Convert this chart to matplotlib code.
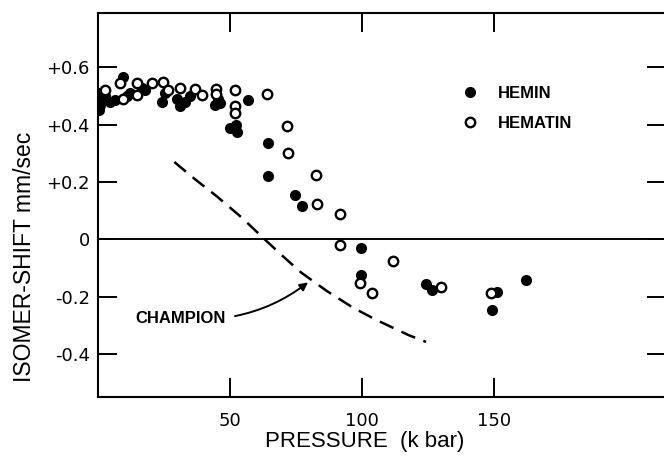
import matplotlib
matplotlib.use("Agg")
import matplotlib.pyplot as plt
import numpy as np

plt.rcParams['font.family'] = ['Liberation Sans', 'DejaVu Sans']

# hemin (filled circles): pressure in kbar, isomer shift in mm/sec
hemin_p = [0.5, 0.5, 0.6, 0.5, 2.5, 4.5, 6.4, 9.5, 11, 12.3, 16.6, 17.8, 24.2, 25.4,
           29.9, 30.9, 32.8, 34.8, 44.3, 45.4, 46.2, 49.9, 52.3, 52.7, 56.8, 64.4, 64.4,
           74.5, 77.3, 99.5, 99.5, 124.2, 126.4, 149.1, 151, 162.1]
hemin_s = [0.51, 0.49, 0.47, 0.45, 0.50, 0.48, 0.485, 0.565, 0.50, 0.51, 0.53, 0.52,
           0.48, 0.51, 0.49, 0.465, 0.48, 0.50, 0.47, 0.49, 0.475, 0.39, 0.40, 0.375,
           0.485, 0.335, 0.22, 0.155, 0.115, -0.03, -0.125, -0.155, -0.175, -0.245,
           -0.185, -0.14]

# hematin (open circles)
hematin_p = [2.6, 8.3, 9.5, 14.7, 14.7, 20.4, 24.6, 26.5, 31.1, 36.7, 39.4, 44.6, 44.6,
             51.9, 51.9, 51.9, 64, 71.5, 71.9, 82.5, 82.9, 91.6, 91.6, 99.2, 103.7,
             111.7, 129.8, 148.8]
hematin_s = [0.52, 0.546, 0.49, 0.546, 0.505, 0.546, 0.55, 0.52, 0.53, 0.525, 0.505,
             0.525, 0.508, 0.52, 0.466, 0.44, 0.508, 0.397, 0.30, 0.226, 0.125, 0.09,
             -0.021, -0.153, -0.188, -0.076, -0.167, -0.188]

# Champion curve (dashed)
champ_p = [28.9, 36.7, 45, 54.3, 63.1, 69.9, 76.8, 86.6, 96.3, 105.1, 112, 117.8, 124.2]
champ_s = [0.27, 0.21, 0.15, 0.077, 0.0, -0.058, -0.115, -0.18, -0.237, -0.28, -0.31, -0.335, -0.358]

xticks = [50, 100, 150]
yticks = [0.6, 0.4, 0.2, 0, -0.2, -0.4]
ytick_labels = ["+0.6", "+0.4", "+0.2", "0", "-0.2", "-0.4"]

fig = plt.figure(figsize=(6.64, 4.59), dpi=100)
ax = fig.add_axes([98 / 664, 62 / 459, 568 / 664, 384 / 459])

ax.axhline(0, color='black', lw=1.4, zorder=1)
ax.plot(champ_p, champ_s, color='black', lw=1.8, dashes=(6, 3.5), zorder=2)

ax.plot(hemin_p, hemin_s, 'o', color='black', ms=8, mew=0, ls='none',
        label='HEMIN', zorder=3)
ax.plot(hematin_p, hematin_s, 'o', mfc='white', mec='black', ms=6.8, mew=1.7,
        ls='none', label='HEMATIN', zorder=4)

ax.annotate('CHAMPION', xy=(79.5, -0.15), xytext=(14, -0.275),
            fontsize=12, fontweight='bold', va='center', ha='left',
            arrowprops=dict(arrowstyle='-|>', color='black', lw=1.4,
                            shrinkA=5, shrinkB=0, mutation_scale=12,
                            connectionstyle='arc3,rad=0.2'))

ax.legend(loc='upper left', bbox_to_anchor=(0.613, 0.85), frameon=False,
          handletextpad=1.2, labelspacing=0.9, prop=dict(size=12, weight='bold'),
          handlelength=1.0)

ax.set_xlim(0, 215)
ax.set_ylim(-0.55, 0.79)
ax.set_xticks(xticks)
ax.set_xticklabels([str(t) for t in xticks], fontsize=13, family='DejaVu Sans')
ax.set_yticks(yticks)
ax.set_yticklabels(ytick_labels, fontsize=13, family='DejaVu Sans')
ax.tick_params(axis='both', direction='in', length=14, width=1.4,
               top=True, right=True)
ax.tick_params(axis='x', pad=11)
ax.tick_params(axis='y', pad=6)
for s in ax.spines.values():
    s.set_linewidth(1.5)

ax.set_xlabel('PRESSURE  (k bar)', fontsize=16)
ax.xaxis.set_label_coords(0.47, -0.088)
ax.xaxis.label.set_va('top')
ax.set_ylabel('ISOMER-SHIFT mm/sec', fontsize=16.5)
ax.yaxis.set_label_coords(-0.11, 0.365)

fig.savefig('out.png', dpi=100)
